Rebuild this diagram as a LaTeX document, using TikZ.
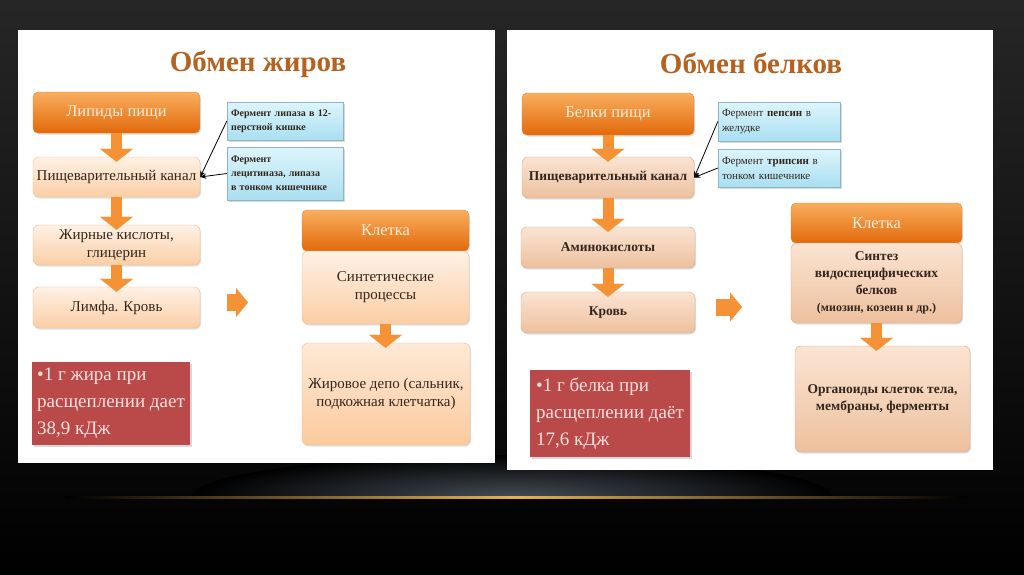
\documentclass[tikz,border=0pt]{standalone}
\usepackage{fontspec}
\setmainfont{Liberation Serif}
\usetikzlibrary{shapes.arrows, arrows.meta, positioning, calc, shadows}

\definecolor{hdrtop}{HTML}{F9AE5E}
\definecolor{hdrbot}{HTML}{E2690B}
\definecolor{hdrline}{HTML}{D7893F}
\definecolor{hdrtext}{HTML}{FDEEDC}
\definecolor{boxtop}{HTML}{FEF1E5}
\definecolor{boxbot}{HTML}{FBCEA5}
\definecolor{boxline}{HTML}{F4B98B}
\definecolor{boxtext}{HTML}{33261C}
\definecolor{tantop}{HTML}{FBE4D2}
\definecolor{tanbot}{HTML}{EDC09E}
\definecolor{tanline}{HTML}{D9A683}
\definecolor{enztop}{HTML}{DDF5FC}
\definecolor{enzbot}{HTML}{A9DFF1}
\definecolor{enzline}{HTML}{8FB4C6}
\definecolor{kjfill}{HTML}{BA4A49}
\definecolor{kjtext}{HTML}{F8E2E0}
\definecolor{flowc}{HTML}{F49235}
\definecolor{titlec}{HTML}{B5611F}
\definecolor{goldc}{HTML}{E8B24E}
\definecolor{glowc}{HTML}{454C55}

\begin{document}
\begin{tikzpicture}[x=1pt, y=-1pt,
  every node/.style={font=\fontsize{15}{18}\selectfont},
  headline/.style={font=\bfseries\fontsize{29}{34}\selectfont, text=titlec},
  hdr/.style={rectangle, rounded corners=5pt, draw=hdrline, top color=hdrtop, bottom color=hdrbot,
    text=hdrtext, font=\fontsize{16.5}{20}\selectfont,
    drop shadow={opacity=0.25, shadow xshift=1pt, shadow yshift=-1.5pt}},
  peach/.style={rectangle, rounded corners=6pt, draw=boxline, top color=boxtop, bottom color=boxbot,
    text=boxtext, align=center, drop shadow={opacity=0.25, shadow xshift=1pt, shadow yshift=-1.5pt}},
  tan/.style={peach, draw=tanline, top color=tantop, bottom color=tanbot,
    font=\bfseries\fontsize{13.5}{17}\selectfont},
  enzbox/.style={rectangle, draw=enzline, top color=enztop, bottom color=enzbot, text=boxtext,
    align=left, inner xsep=4pt, font=\fontsize{11}{15}\selectfont,
    drop shadow={opacity=0.3, shadow xshift=1.5pt, shadow yshift=-1.5pt}},
  kjbox/.style={rectangle, fill=kjfill, text=kjtext, align=left, inner xsep=5pt,
    font=\fontsize{19}{27}\selectfont, drop shadow={opacity=0.3, shadow xshift=2pt, shadow yshift=-2pt}},
  blockarrow/.style={draw=flowc, line width=11pt, shorten >=-5pt,
    -{Triangle[width=33pt, length=13pt, line width=0.1pt]}},
  sidearrow/.style={draw=flowc, line width=17pt, -{Triangle[width=29pt, length=12pt, line width=0.1pt]}},
  enzarrow/.style={-{Stealth[length=6pt, width=5pt]}, line width=0.8pt},
]
  \useasboundingbox (0,0) rectangle (1024,574);

  % background
  \shade[top color=black!85, bottom color=black] (0,0) rectangle (1024,574);
  \begin{scope}
    \clip (0,380) rectangle (1024,497);
    \shade[inner color=glowc, outer color=black] (512,497) ellipse (320 and 42);
  \end{scope}
  \shade[left color=black, right color=black, middle color=goldc] (65,496) rectangle (967,498.5);

  % panels
  \fill[white] (18,30) rectangle (495,463);
  \fill[white] (507,30) rectangle (993,470);

  % ---- fats
  \node[headline] (titleL) at (258,64) {Обмен жиров};

  \node[hdr, minimum width=167pt, minimum height=41pt] (lipL) at (116.5,112.5) {Липиды пищи};
  \node[peach, minimum width=167pt, minimum height=40pt] (canalL) at (116.5,177) {Пищеварительный канал};
  \node[peach, minimum width=167pt, minimum height=40pt] (acidL) at (116.5,245) {Жирные кислоты,\\глицерин};
  \node[peach, minimum width=167pt, minimum height=41pt] (lymphL) at (116.5,307.5) {Лимфа. Кровь};

  \node[enzbox, text width=108pt, minimum height=38pt, font=\bfseries\fontsize{10}{14}\selectfont] (enzL1) at (285,121)
    {Фермент липаза в 12-\\перстной кишке};
  \node[enzbox, text width=108pt, minimum height=53pt, font=\bfseries\fontsize{10}{14}\selectfont] (enzL2) at (285,173.5)
    {Фермент\\лецитиназа, липаза\\в тонком кишечнике};

  \node[kjbox, minimum width=154pt, minimum height=83pt] (kjL) at (111,403.5)
    {•1 г жира при\\расщеплении дает\\38,9 кДж};

  \node[hdr, minimum width=167pt, minimum height=41pt] (cellL) at (385.5,230.5) {Клетка};
  \node[peach, minimum width=167pt, minimum height=73pt] (synthL) at (385.5,287.5) {Синтетические\\процессы};
  \node[peach, minimum width=168pt, minimum height=102pt, top color=boxbot!45!white, bottom color=boxbot!95!orange]
    (depotL) at (386,394) {Жировое депо (сальник,\\подкожная клетчатка)};

  \draw[blockarrow] (lipL) -- (canalL);
  \draw[blockarrow] (canalL) -- (acidL);
  \draw[blockarrow] (acidL) -- (lymphL);
  \draw[blockarrow] (synthL.south) -- (synthL.south |- depotL.north);

  \coordinate (sideL) at (248,302.5);
  \draw[sidearrow] ([shift={(27,-5)}]lymphL.east) -- (sideL);

  \draw[enzarrow] (enzL1.west) -- (canalL.east);
  \draw[enzarrow] (enzL2.west) -- (canalL.east);

  % ---- proteins
  \node[headline] (titleR) at (751,63) {Обмен белков};

  \node[hdr, minimum width=172pt, minimum height=42pt] (protR) at (608,114) {Белки пищи};
  \node[tan, minimum width=172pt, minimum height=41pt] (canalR) at (608,177.5) {Пищеварительный канал};
  \node[tan, minimum width=174pt, minimum height=41pt] (aminoR) at (608,247.5) {Аминокислоты};
  \node[tan, minimum width=174pt, minimum height=41pt] (bloodR) at (608,312.5) {Кровь};

  \node[enzbox, text width=114pt, minimum height=39pt] (enzR1) at (779,121.5)
    {Фермент \textbf{пепсин} в\\желудке};
  \node[enzbox, text width=114pt, minimum height=38pt] (enzR2) at (779,168)
    {Фермент \textbf{трипсин} в\\тонком кишечнике};

  \node[kjbox, minimum width=160pt, minimum height=87pt] (kjR) at (610,413.5)
    {•1 г белка при\\расщеплении даёт\\17,6 кДж};

  \node[hdr, minimum width=171pt, minimum height=40pt] (cellR) at (876.5,223) {Клетка};
  \node[tan, minimum width=171pt, minimum height=80pt] (synthR) at (876.5,283)
    {Синтез\\видоспецифических\\белков\\{\fontsize{12}{15}\selectfont(миозин, козеин и др.)}};
  \node[tan, minimum width=175pt, minimum height=106pt] (organR) at (882.5,399)
    {Органоиды клеток тела,\\мембраны, ферменты};

  \draw[blockarrow] (protR) -- (canalR);
  \draw[blockarrow] (canalR) -- (aminoR);
  \draw[blockarrow] (aminoR) -- (bloodR);
  \draw[blockarrow] (synthR.south) -- (synthR.south |- organR.north);

  \coordinate (sideR) at (742,307);
  \draw[sidearrow] ([shift={(21,-5.5)}]bloodR.east) -- (sideR);

  \draw[enzarrow] (enzR1.west) -- (canalR.east);
  \draw[enzarrow] (enzR2.west) -- (canalR.east);
\end{tikzpicture}
\end{document}
